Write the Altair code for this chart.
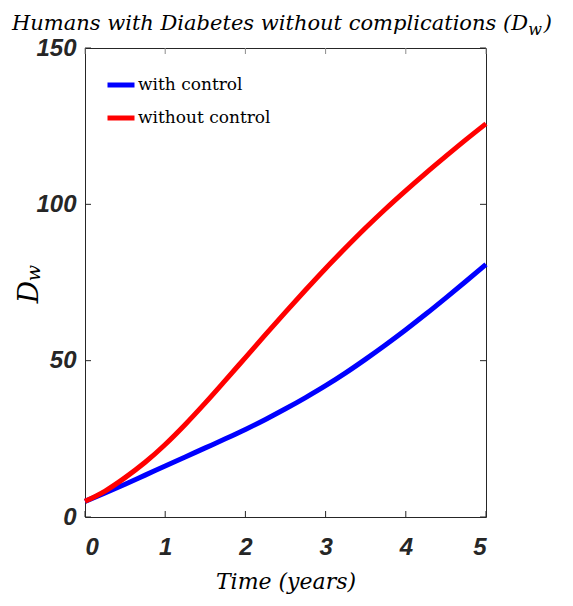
import altair as alt
import pandas as pd

# ---- data ----
time = [0, 0.25, 0.5, 0.75, 1, 1.25, 1.5, 1.75, 2, 2.25, 2.5, 2.75, 3,
        3.25, 3.5, 3.75, 4, 4.25, 4.5, 4.75, 5]
with_control = [5, 7.7, 10.5, 13.4, 16.3, 19.2, 22.1, 25, 28, 31.2, 34.6, 38.2,
                42, 46.1, 50.5, 55.1, 59.9, 64.9, 70.1, 75.4, 80.8]
without_control = [5, 8.3, 12.6, 17.5, 23.2, 29.6, 36.5, 43.7, 51, 58.3, 65.5, 72.6,
                   79.5, 86.1, 92.5, 98.6, 104.4, 110, 115.4, 120.7, 125.8]
series_names = ["with control", "without control"]
series_colors = ["#0000ff", "#ff0000"]
x_ticks = [0, 1, 2, 3, 4, 5]
y_ticks = [0, 50, 100, 150]

W, H = 401, 469
TICK_FONT = "Liberation Sans, Arial, sans-serif"
SERIF = "DejaVu Serif"

rows = []
for t, a, b in zip(time, with_control, without_control):
    rows.append({"t": t, "v": a, "series": series_names[0]})
    rows.append({"t": t, "v": b, "series": series_names[1]})
df = pd.DataFrame(rows)

X = alt.X("t:Q", scale=alt.Scale(domain=[0, 5], nice=False),
          axis=alt.Axis(values=x_ticks, title=None, format="d"))
Y = alt.Y("v:Q", scale=alt.Scale(domain=[0, 150], nice=False),
          axis=alt.Axis(values=y_ticks, title=None, format="d"))

lines = alt.Chart(df).mark_line(strokeWidth=5, interpolate="monotone").encode(
    x=X, y=Y,
    color=alt.Color("series:N",
                    scale=alt.Scale(domain=series_names, range=series_colors),
                    legend=alt.Legend(orient="none", legendX=20, legendY=21,
                                      title=None, symbolType="stroke",
                                      symbolSize=729, symbolStrokeWidth=5,
                                      labelFont=SERIF, labelFontSize=17,
                                      labelColor="#000000", labelOffset=1,
                                      rowPadding=7, padding=0)),
)

xt = pd.DataFrame({"t": x_ticks})
yt = pd.DataFrame({"v": y_ticks})
tick_color = "#262626"
xb = alt.Chart(xt).mark_rule(color=tick_color, strokeWidth=1).encode(
    x=X, y=alt.value(H), y2=alt.value(H - 6))
xtop = alt.Chart(xt).mark_rule(color="#8c8c8c", strokeWidth=1).encode(
    x=X, y=alt.value(0), y2=alt.value(6))
yl = alt.Chart(yt).mark_rule(color=tick_color, strokeWidth=1).encode(
    y=Y, x=alt.value(0), x2=alt.value(6))
yr = alt.Chart(yt).mark_rule(color=tick_color, strokeWidth=1).encode(
    y=Y, x=alt.value(W - 6), x2=alt.value(W))

one = pd.DataFrame({"a": [0]})


def txt(text, x, y, size, angle=0, align="center", baseline="alphabetic"):
    return alt.Chart(one).mark_text(
        text=text, font=SERIF, fontSize=size, fontStyle="italic",
        align=align, baseline=baseline, angle=angle, color="#000000",
    ).encode(x=alt.value(x), y=alt.value(y))


# title "Humans with Diabetes without complications (D_w)"
title_main = txt("Humans with Diabetes without complications (D", 443, -18, 21, align="right")
title_sub = txt("w", 457, -13, 16, align="right")
title_end = txt(")", 467, -18, 21, align="right")

# x axis title
xtitle = txt("Time (years)", 201, 541, 22)

# y axis title D_w (rotated)
ytitle_D = txt("D", -47, 244, 28, angle=270)
ytitle_w = txt("w", -45, 225, 19, angle=270)

chart = alt.layer(
    lines, xb, xtop, yl, yr,
    title_main, title_sub, title_end, xtitle, ytitle_D, ytitle_w,
).properties(
    width=W, height=H,
    autosize=alt.AutoSizeParams(type="none"),
    padding={"left": 77, "top": 40, "right": 79, "bottom": 81},
).configure_view(
    stroke="#262626", strokeWidth=1
).configure_axis(
    grid=False, ticks=False, domain=False,
    labelFont=TICK_FONT, labelFontSize=24, labelFontWeight="bold",
    labelFontStyle="italic", labelColor="#262626",
).configure_axisX(labelPadding=18).configure_axisY(labelPadding=9)

chart.save("out.html", embed_options={"renderer": "svg", "actions": False})
